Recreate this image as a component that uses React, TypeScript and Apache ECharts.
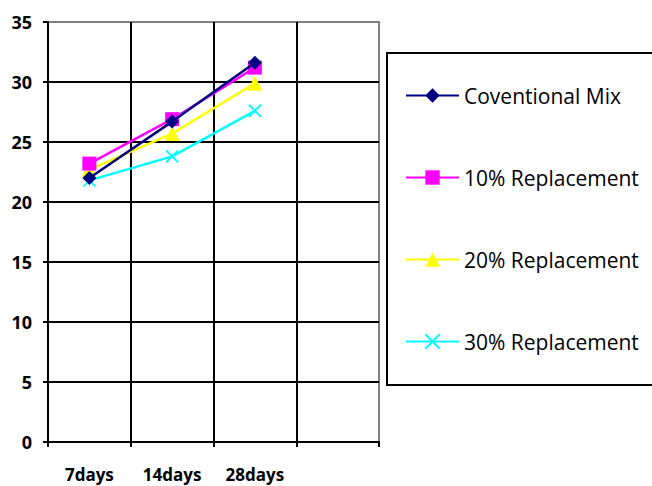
import React, { useEffect, useRef } from "react";
import * as echarts from "echarts";

const categories = ["7days", "14days", "28days", ""];
const conventionalMix = [22.0, 26.7, 31.6];
const replacement10 = [23.2, 26.9, 31.2];
const replacement20 = [22.7, 25.7, 29.9];
const replacement30 = [21.8, 23.8, 27.6];
const seriesNames = ["Coventional Mix", "10% Replacement", "20% Replacement", "30% Replacement"];
const seriesColors = ["#000080", "#FF00FF", "#FFFF00", "#00FFFF"];
const seriesSymbols = ["diamond", "rect", "triangle", "path://M0,0L10,10M10,0L0,10"];
const seriesSymbolSizes = [14, 14, 15, 12];
const yTicks = [0, 5, 10, 15, 20, 25, 30, 35];

export default function App() {
  const ref = useRef<HTMLDivElement>(null);
  useEffect(() => {
    if (!ref.current) return;
    const chart = echarts.init(ref.current, null, { renderer: "svg" });
    const data = [conventionalMix, replacement10, replacement20, replacement30];
    const series = data.map((d, i) => ({
      name: seriesNames[i],
      type: "line",
      data: d,
      symbol: seriesSymbols[i],
      symbolSize: seriesSymbolSizes[i],
      lineStyle: { color: seriesColors[i], width: 2.5 },
      itemStyle: {
        color: seriesColors[i],
        borderColor: seriesColors[i],
        borderWidth: i === 3 ? 2 : 0,
      },
      emphasis: { disabled: true },
      z: 10 - i,
    }));
    chart.setOption({
      animation: false,
      backgroundColor: "#fff",
      grid: {
        left: 48,
        right: 273,
        top: 22,
        bottom: 44,
        containLabel: false,
        show: true,
        borderColor: "#808080",
        borderWidth: 2,
      },
      xAxis: {
        type: "category",
        data: categories,
        boundaryGap: true,
        axisLine: { lineStyle: { color: "#000", width: 2 } },
        axisTick: { show: true, length: 5, lineStyle: { color: "#000", width: 2 } },
        axisLabel: {
          color: "#000",
          fontFamily: "Open Sans",
          fontWeight: "bold",
          fontSize: 17,
          lineHeight: 20,
          margin: 22,
        },
        splitLine: {
          show: true,
          showMaxLine: false,
          lineStyle: { color: "#000", width: 2 },
        },
      },
      yAxis: {
        type: "value",
        min: yTicks[0],
        max: yTicks[yTicks.length - 1],
        interval: 5,
        axisLine: { show: true, lineStyle: { color: "#000", width: 2 } },
        axisTick: { show: true, length: 5, lineStyle: { color: "#000", width: 2 } },
        axisLabel: {
          color: "#000",
          fontFamily: "Open Sans",
          fontWeight: "bold",
          fontSize: 18,
          margin: 16,
        },
        splitLine: {
          show: true,
          showMaxLine: false,
          lineStyle: { color: "#000", width: 2 },
        },
      },
      legend: {
        orient: "vertical",
        left: 405,
        top: 85,
        padding: 0,
        itemWidth: 53,
        itemHeight: 18,
        itemGap: 61,
        selectedMode: false,
        textStyle: { fontFamily: "Open Sans", fontSize: 21, color: "#000", lineHeight: 21 },
        data: seriesNames,
      },
      graphic: [
        {
          type: "rect",
          shape: { x: 387, y: 53, width: 300, height: 332 },
          style: { fill: "none", stroke: "#000", lineWidth: 2 },
          z: -1,
        },
      ],
      series,
    });
    return () => chart.dispose();
  }, []);
  return <div ref={ref} style={{ width: 652, height: 486, position: "absolute", left: 0, top: 0 }} />;
}
